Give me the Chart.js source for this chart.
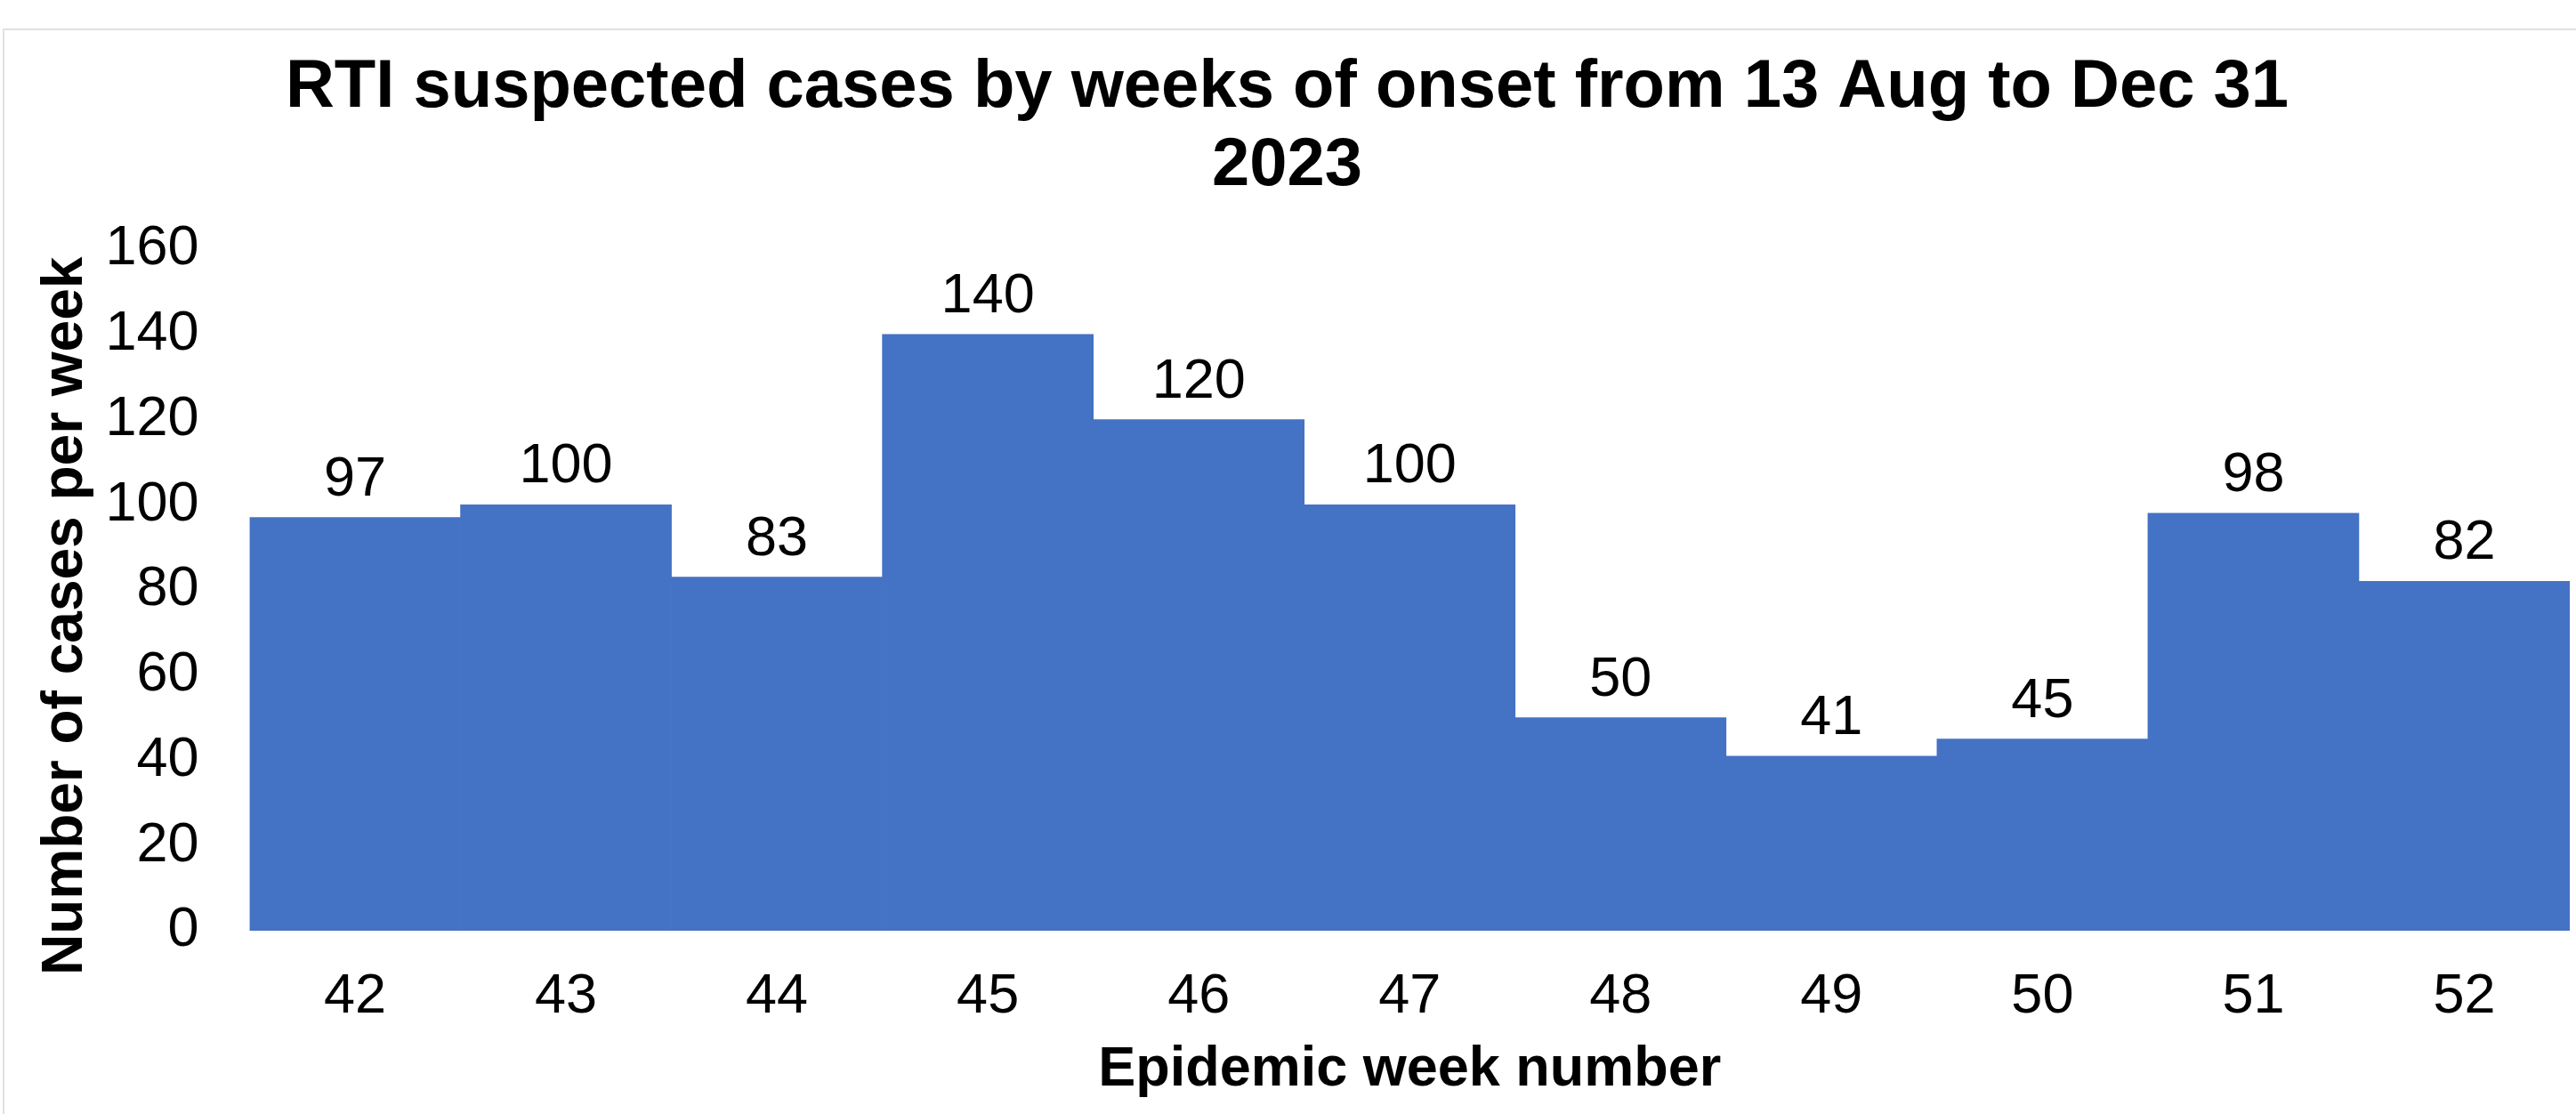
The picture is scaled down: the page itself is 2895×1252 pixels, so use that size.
<!DOCTYPE html>
<html><head><meta charset="utf-8">
<script src="https://cdn.jsdelivr.net/npm/chart.js@4.4.1/dist/chart.umd.min.js"></script>
<style>
html,body{margin:0;padding:0;background:#fff;overflow:hidden;width:2895px;height:1252px;}
#frame{position:absolute;left:3px;top:32px;border-left:2px solid #e1e1e1;border-top:2px solid #e1e1e1;background:#fff;}
canvas{display:block;}
</style></head><body>
<div id="frame"><canvas id="c" width="2904" height="1218"></canvas></div>
<script>
const weeks = ['42','43','44','45','46','47','48','49','50','51','52'];
const cases = [97, 100, 83, 140, 120, 100, 50, 41, 45, 98, 82];
const yTicks = [0, 20, 40, 60, 80, 100, 120, 140, 160];
const chartTitle = ['RTI suspected cases by weeks of onset from 13 Aug to Dec 31', '2023'];
const xTitle = 'Epidemic week number';
const yTitle = 'Number of cases per week';

const FONT = '"Liberation Sans", Arial, sans-serif';

const valueLabels = {
  id: 'valueLabels',
  afterDatasetsDraw(chart) {
    const ctx = chart.ctx;
    const meta = chart.getDatasetMeta(0);
    const data = chart.data.datasets[0].data;
    ctx.save();
    ctx.font = '63px ' + FONT;
    ctx.fillStyle = '#000';
    ctx.textAlign = 'center';
    ctx.textBaseline = 'alphabetic';
    meta.data.forEach((bar, i) => {
      ctx.fillText(String(data[i]), bar.x, bar.y - 25);
    });
    ctx.restore();
  }
};

new Chart(document.getElementById('c'), {
  type: 'bar',
  data: {
    labels: weeks,
    datasets: [{
      data: cases,
      backgroundColor: '#4472C4',
      borderWidth: 0,
      barPercentage: 1.0,
      categoryPercentage: 1.0
    }]
  },
  plugins: [valueLabels],
  options: {
    responsive: false,
    devicePixelRatio: 1,
    animation: false,
    layout: { padding: { left: 0, right: 21, top: 0, bottom: 0 } },
    plugins: {
      legend: { display: false },
      tooltip: { enabled: false },
      title: {
        display: true,
        text: chartTitle,
        color: '#000',
        font: { family: FONT, size: 76, weight: 'bold', lineHeight: 88/76 },
        padding: { top: 21, bottom: 49 }
      }
    },
    scales: {
      x: {
        grid: { display: false, drawTicks: false },
        border: { display: false },
        ticks: {
          color: '#000',
          font: { family: FONT, size: 63, lineHeight: 1.2 },
          padding: 37,
          maxRotation: 0,
          autoSkip: false
        },
        title: {
          display: true,
          text: xTitle,
          color: '#000',
          font: { family: FONT, size: 63, weight: 'bold', lineHeight: 1.2 },
          padding: { top: 6, bottom: 12 }
        },
        afterFit(scale) { scale.height = 206; }
      },
      y: {
        min: 0,
        max: 160,
        grid: { display: false, drawTicks: false },
        border: { display: false },
        afterBuildTicks(scale) { scale.ticks = yTicks.map(v => ({ value: v })); },
        ticks: {
          color: '#000',
          font: { family: FONT, size: 63, lineHeight: 1.2 },
          padding: 57
        },
        title: {
          display: true,
          text: yTitle + '   \u200A',
          color: '#000',
          font: { family: FONT, size: 64, weight: 'bold', lineHeight: 1.2 },
          padding: { top: 31, bottom: 6 }
        },
        afterFit(scale) { scale.width = 275.5; }
      }
    }
  }
});
</script>
</body></html>
